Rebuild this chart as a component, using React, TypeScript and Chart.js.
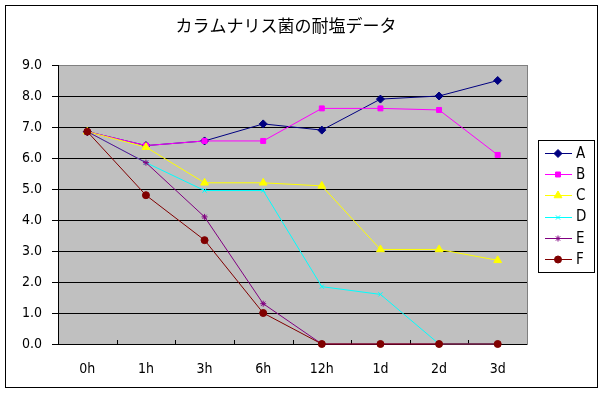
import React, { useEffect, useRef } from "react";
import { Chart, registerables } from "chart.js";
import { drawPoint } from "chart.js/helpers";

Chart.register(...registerables);

const title = "カラムナリス菌の耐塩データ";
const categories = ["0h", "1h", "3h", "6h", "12h", "1d", "2d", "3d"];
const seriesNames = ["A", "B", "C", "D", "E", "F"];
const seriesA = [6.85, 6.4, 6.55, 7.1, 6.9, 7.9, 8.0, 8.5];
const seriesB = [6.85, 6.4, 6.55, 6.55, 7.6, 7.6, 7.55, 6.1];
const seriesC = [6.85, 6.35, 5.2, 5.2, 5.1, 3.05, 3.05, 2.7];
const seriesD = [6.85, 5.85, 4.95, 4.95, 1.85, 1.6, 0, 0];
const seriesE = [6.85, 5.85, 4.1, 1.3, 0, 0, 0, 0];
const seriesF = [6.85, 4.8, 3.35, 1.0, 0, 0, 0, 0];
const yMin = 0;
const yMax = 9;
const yStep = 1;

const colors = ["#000080", "#FF00FF", "#FFFF00", "#00FFFF", "#800080", "#800000"];
const pointStyles = ["rectRot", "rect", "triangle", "crossRot", "star", "circle"];
const pointRadii = [4, 3.5, 4.5, 3, 3, 3.5];

const FONT = '"Liberation Sans Narrow", "DejaVu Sans Condensed", "Liberation Sans", sans-serif';

const framePlugin = {
  id: "frame",
  beforeDraw(chart: any) {
    const { ctx, chartArea: a } = chart;
    ctx.save();
    ctx.fillStyle = "#ffffff";
    ctx.fillRect(0, 0, chart.width, chart.height);
    ctx.strokeStyle = "#000000";
    ctx.lineWidth = 1;
    ctx.strokeRect(5.5, 5.5, 592, 382);
    ctx.fillStyle = "#C0C0C0";
    ctx.fillRect(a.left, a.top, a.right - a.left, a.bottom - a.top);
    ctx.strokeStyle = "#808080";
    ctx.strokeRect(Math.round(a.left) + 0.5, Math.round(a.top) + 0.5, Math.round(a.right - a.left), Math.round(a.bottom - a.top));
    ctx.fillStyle = "#000000";
    ctx.font = '17px "Noto Sans CJK JP", sans-serif';
    ctx.textAlign = "center";
    ctx.textBaseline = "middle";
    ctx.fillText(title, 286, 26);
    ctx.restore();
  },
  beforeDatasetsDraw(chart: any) {
    const { ctx, chartArea: a } = chart;
    const n = categories.length;
    const w = (a.right - a.left) / n;
    ctx.save();
    ctx.strokeStyle = "#000000";
    ctx.lineWidth = 1;
    ctx.beginPath();
    for (let i = 1; i < n; i++) {
      const x = Math.round(a.left + i * w) + 0.5;
      ctx.moveTo(x, a.bottom - 4);
      ctx.lineTo(x, a.bottom);
    }
    ctx.stroke();
    ctx.restore();
  },
  afterDraw(chart: any) {
    const { ctx } = chart;
    const bx = 538.5, by = 140.5, bw = 56, bh = 132;
    ctx.save();
    ctx.fillStyle = "#ffffff";
    ctx.fillRect(bx, by, bw, bh);
    ctx.strokeStyle = "#000000";
    ctx.lineWidth = 1;
    ctx.strokeRect(bx, by, bw, bh);
    chart.data.datasets.forEach((ds: any, i: number) => {
      const y = 153 + i * 21.2;
      ctx.strokeStyle = ds.borderColor;
      ctx.lineWidth = 1;
      ctx.beginPath();
      ctx.moveTo(545, Math.round(y) + 0.5);
      ctx.lineTo(572, Math.round(y) + 0.5);
      ctx.stroke();
      ctx.fillStyle = ds.pointBackgroundColor;
      ctx.strokeStyle = ds.pointBorderColor;
      drawPoint(ctx, { pointStyle: ds.pointStyle, radius: ds.pointRadius, borderWidth: 1, rotation: 0 }, 558, Math.round(y) + 0.5);
      ctx.fillStyle = "#000000";
      ctx.font = `15px ${FONT}`;
      ctx.textBaseline = "middle";
      ctx.textAlign = "left";
      ctx.fillText(ds.label, 576, y + 1);
    });
    ctx.restore();
  },
};

export default function App() {
  const ref = useRef<HTMLCanvasElement | null>(null);
  useEffect(() => {
    document.body.style.margin = "0";
    const allSeries = [seriesA, seriesB, seriesC, seriesD, seriesE, seriesF];
    const chart = new Chart(ref.current as HTMLCanvasElement, {
      type: "line",
      data: {
        labels: categories,
        datasets: allSeries.map((data, i) => ({
          label: seriesNames[i],
          data,
          borderColor: colors[i],
          backgroundColor: colors[i],
          pointBackgroundColor: colors[i],
          pointBorderColor: colors[i],
          pointStyle: pointStyles[i] as any,
          pointRadius: pointRadii[i],
          pointBorderWidth: 1,
          borderWidth: 1,
          tension: 0,
          fill: false,
          clip: false as any,
          order: 5 - i,
        })),
      },
      options: {
        animation: false,
        responsive: false,
        devicePixelRatio: 1,
        layout: { padding: { left: 0, right: 76, top: 65, bottom: 0 } },
        plugins: {
          legend: { display: false },
          tooltip: { enabled: false },
          title: { display: false },
        },
        scales: {
          x: {
            type: "category",
            offset: true,
            grid: { display: false },
            border: { display: false },
            ticks: { color: "#000000", font: { family: FONT, size: 14 }, padding: 9, maxRotation: 0 },
            afterFit: (s: any) => {
              s.height = 51;
            },
          },
          y: {
            min: yMin,
            max: yMax,
            ticks: {
              stepSize: yStep,
              color: "#000000",
              font: { family: FONT, size: 14 },
              padding: 10,
              callback: (v: any) => Number(v).toFixed(1),
            },
            grid: {
              color: (c: any) => (c.tick && c.tick.value === yMax ? "#808080" : "#000000"),
              tickColor: "#000000",
              tickLength: 6,
              lineWidth: 1,
            },
            border: { display: true, color: "#000000" },
            afterFit: (s: any) => {
              s.width = 58;
            },
          },
        },
      },
      plugins: [framePlugin],
    });
    return () => chart.destroy();
  }, []);
  return (
    <div style={{ position: "absolute", left: 0, top: 0, width: 603, height: 395 }}>
      <canvas ref={ref} width={603} height={395} style={{ display: "block", width: 603, height: 395 }} />
    </div>
  );
}
